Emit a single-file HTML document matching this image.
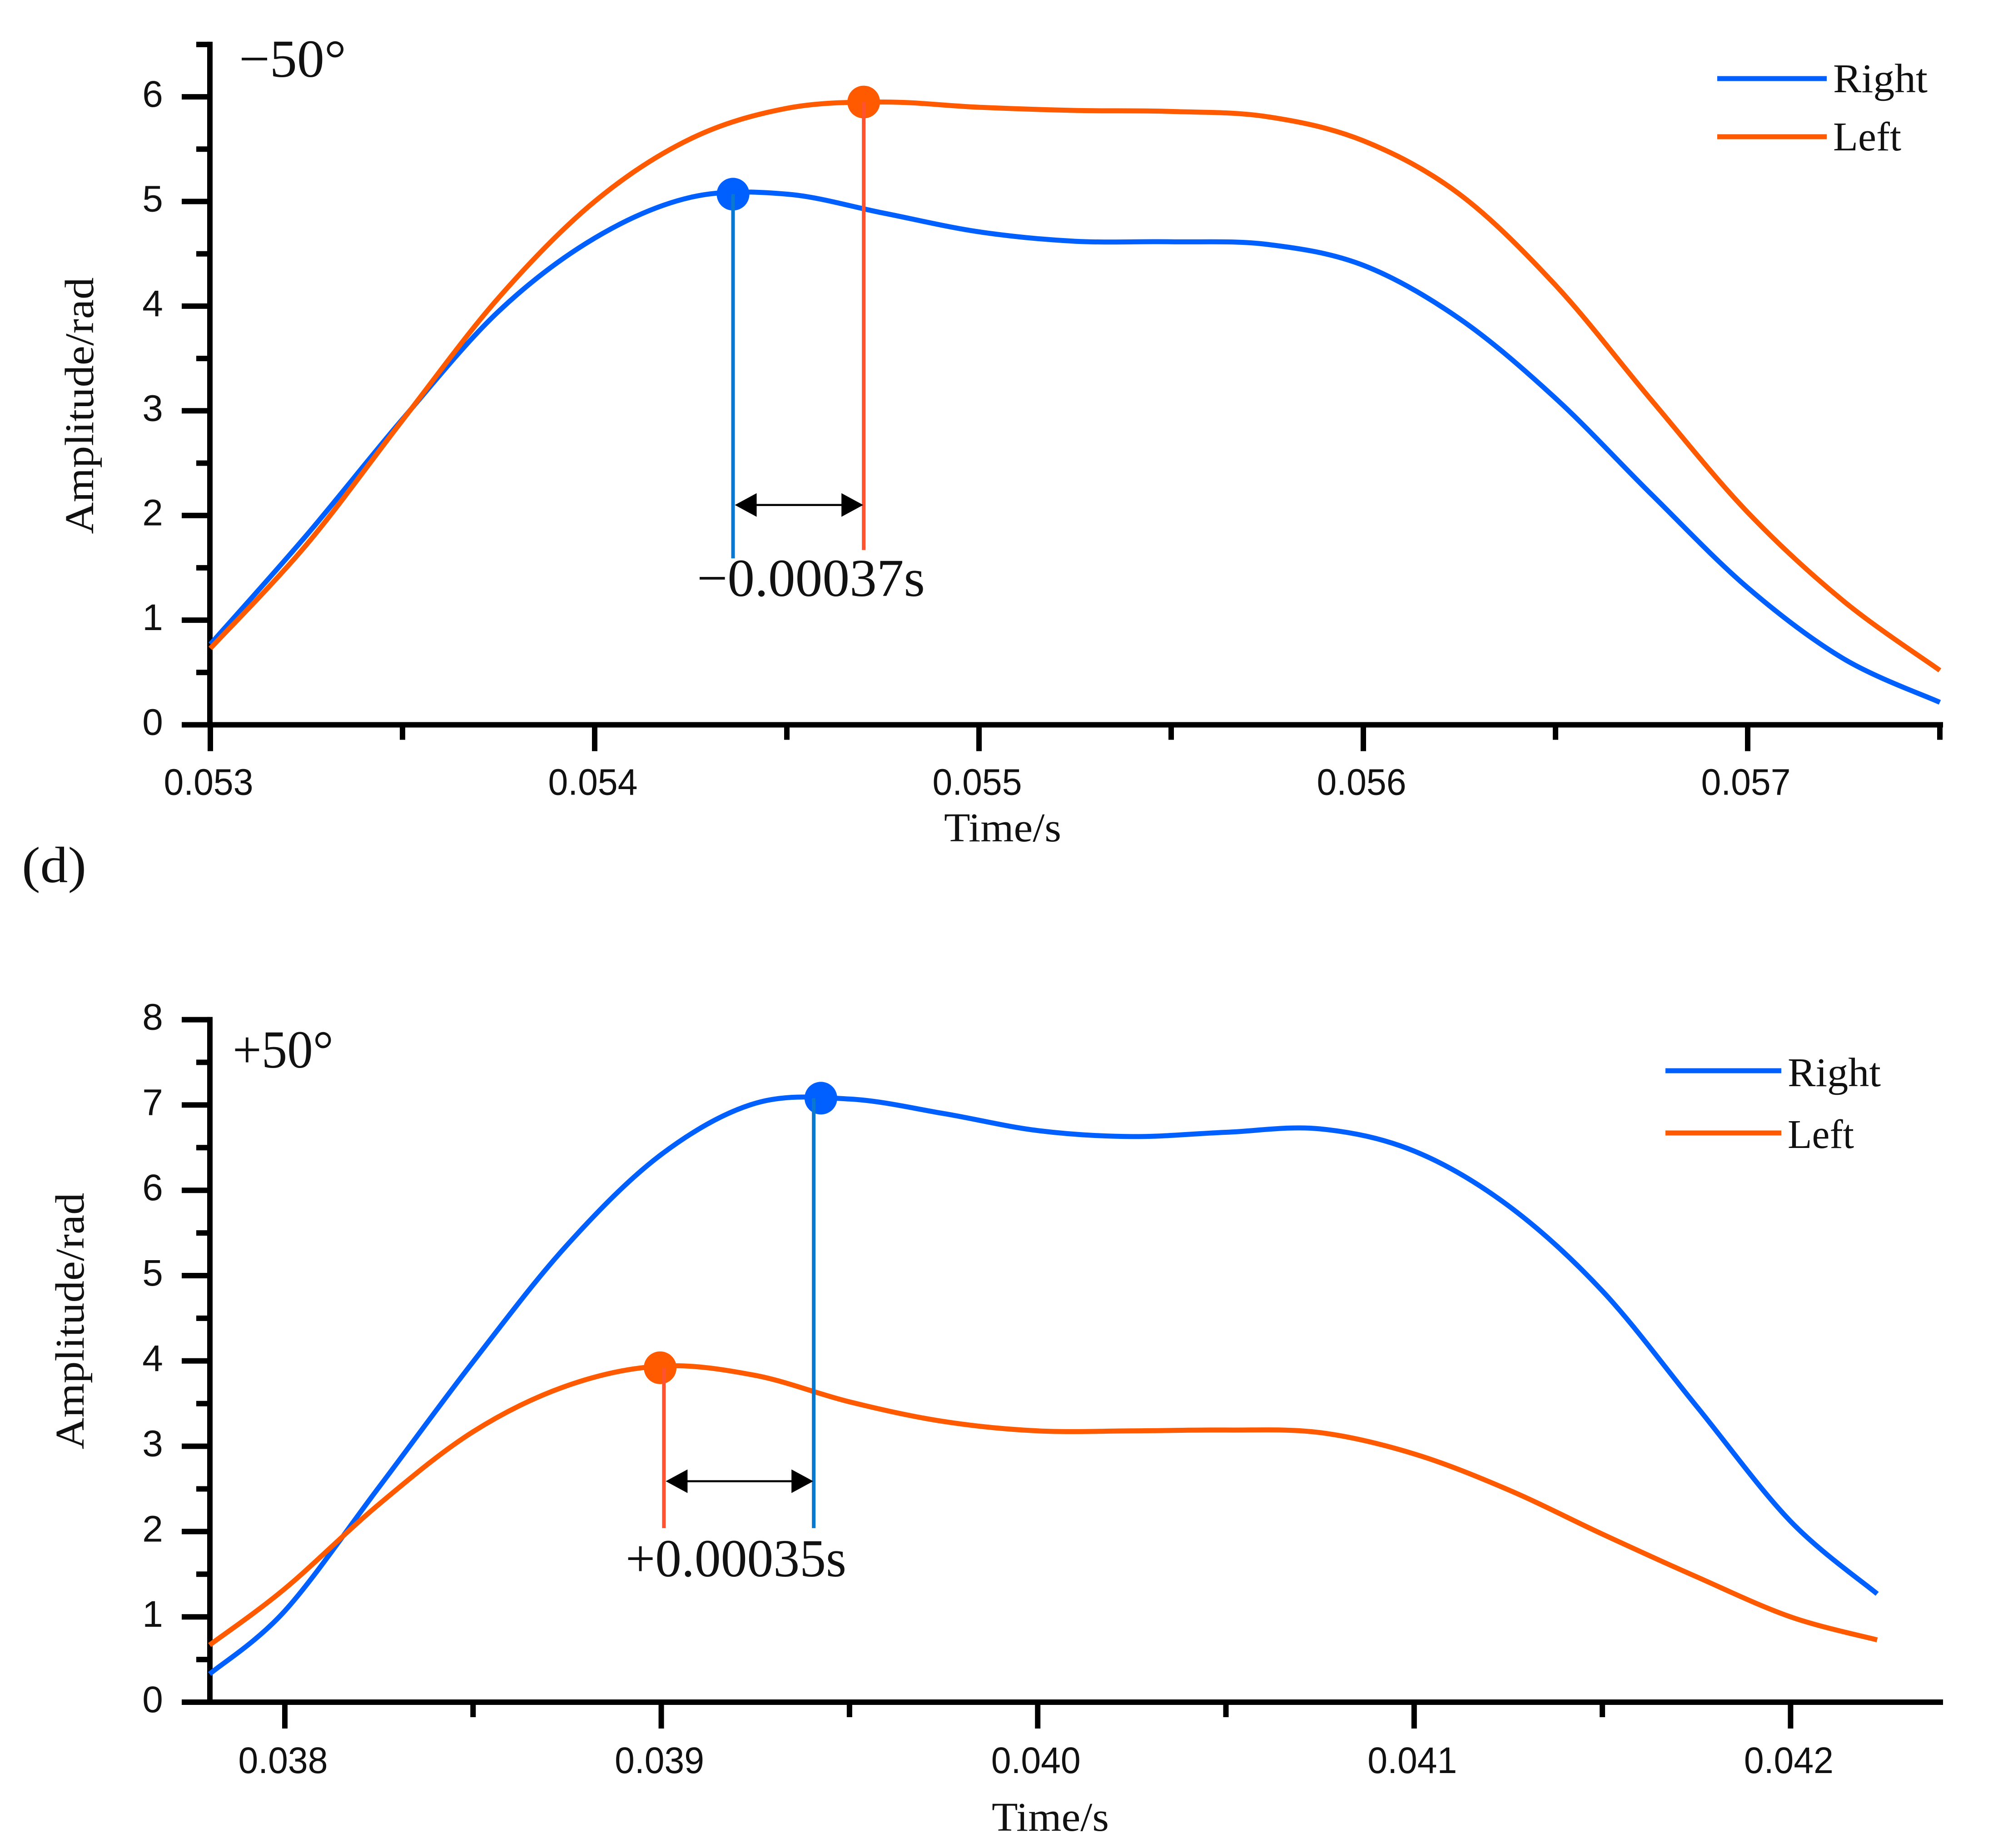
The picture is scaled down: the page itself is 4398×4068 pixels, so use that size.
<!DOCTYPE html>
<html>
<head>
<meta charset="utf-8">
<title>Amplitude vs time</title>
<style>
html,body{margin:0;padding:0;background:#fff;}
svg{display:block;}
.serif{font-family:"Liberation Serif","DejaVu Serif",serif;fill:#111;}
.sans{font-family:"Liberation Sans","DejaVu Sans",sans-serif;fill:#111;}
</style>
</head>
<body>
<svg id="fig" xmlns="http://www.w3.org/2000/svg" width="4398" height="4068" viewBox="0 0 4398 4068">
  <rect x="0" y="0" width="4398" height="4068" fill="#ffffff"/>
  <g id="top"></g>
  <g id="bottom"></g>

  <text class="serif" x="526" y="169" font-size="118" textLength="236" lengthAdjust="spacingAndGlyphs">−50°</text>
  <text class="serif" transform="translate(205 893) rotate(-90)" text-anchor="middle" font-size="90" textLength="565" lengthAdjust="spacingAndGlyphs">Amplitude/rad</text>
  <text class="serif" x="2207" y="1852" text-anchor="middle" font-size="90" textLength="258" lengthAdjust="spacingAndGlyphs">Time/s</text>
  <text class="serif" x="1534" y="1312" font-size="118" textLength="502" lengthAdjust="spacingAndGlyphs">−0.00037s</text>
  <line x1="3780" x2="4021" y1="173" y2="173" stroke="#005fff" stroke-width="11"/>
  <text class="serif" x="4035" y="203" font-size="90" textLength="208" lengthAdjust="spacingAndGlyphs">Right</text>
  <line x1="3780" x2="4021" y1="301" y2="301" stroke="#ff5a00" stroke-width="11"/>
  <text class="serif" x="4035" y="331" font-size="90" textLength="150" lengthAdjust="spacingAndGlyphs">Left</text>

  <text class="serif" x="48" y="1942" font-size="112" textLength="142" lengthAdjust="spacingAndGlyphs">(d)</text>

  <text class="serif" x="512" y="2350" font-size="118" textLength="222" lengthAdjust="spacingAndGlyphs">+50°</text>
  <text class="serif" transform="translate(184 2908) rotate(-90)" text-anchor="middle" font-size="90" textLength="565" lengthAdjust="spacingAndGlyphs">Amplitude/rad</text>
  <text class="serif" x="2312" y="4030" text-anchor="middle" font-size="90" textLength="258" lengthAdjust="spacingAndGlyphs">Time/s</text>
  <text class="serif" x="1377" y="3470" font-size="118" textLength="486" lengthAdjust="spacingAndGlyphs">+0.00035s</text>
  <line x1="3666" x2="3921" y1="2357" y2="2357" stroke="#005fff" stroke-width="11"/>
  <text class="serif" x="3935" y="2391" font-size="90" textLength="205" lengthAdjust="spacingAndGlyphs">Right</text>
  <line x1="3666" x2="3921" y1="2494" y2="2494" stroke="#ff5a00" stroke-width="11"/>
  <text class="serif" x="3935" y="2527" font-size="90" textLength="146" lengthAdjust="spacingAndGlyphs">Left</text>
</svg>
<script>
// ---- top chart data (-50 deg) ----
const topTime = [0.05300,0.05325,0.05350,0.05375,0.05400,0.05425,0.05450,0.05475,0.05500,0.05525,0.05550,0.05575,0.05600,0.05625,0.05650,0.05675,0.05700,0.05725,0.05750];
const topRight = [0.77,1.81,2.92,3.95,4.65,5.04,5.07,4.89,4.71,4.62,4.615,4.59,4.39,3.88,3.12,2.20,1.31,0.63,0.215];
const topLeftTime = [0.05300,0.05325,0.05350,0.05375,0.05400,0.05425,0.05450,0.05475,0.05500,0.05525,0.05550,0.05575,0.05600,0.05625,0.05650,0.05675,0.05700,0.05725,0.05750];
const topLeft = [0.73,1.72,2.91,4.08,5.00,5.60,5.89,5.95,5.90,5.87,5.86,5.81,5.58,5.07,4.20,3.10,2.03,1.18,0.52];
const topXTicks = [0.053,0.054,0.055,0.056,0.057];
const topXLabels = ['0.053','0.054','0.055','0.056','0.057'];
const topXMinor = [0.0535,0.0545,0.0555,0.0565,0.0575];
const topYTicks = [0,1,2,3,4,5,6];
const topYMinor = [0.5,1.5,2.5,3.5,4.5,5.5,6.5];
const topPeakRight = [0.05436,5.07];
const topPeakLeft = [0.05470,5.95];
const topDropRight = [0.05436,1.59];
const topDropLeft = [0.05470,1.67];
const topArrowLevel = [2.10];

// ---- bottom chart data (+50 deg) ----
const botTimeRight = [0.03780,0.03800,0.03825,0.03850,0.03875,0.03900,0.03925,0.03950,0.03975,0.04000,0.04025,0.04050,0.04075,0.04100,0.04125,0.04150,0.04175,0.04200,0.04223];
const botRight = [0.33,1.07,2.52,3.99,5.36,6.42,7.02,7.07,6.90,6.70,6.63,6.68,6.72,6.46,5.82,4.82,3.47,2.12,1.27];
const botTimeLeft = [0.03780,0.03800,0.03825,0.03850,0.03875,0.03900,0.03925,0.03950,0.03975,0.04000,0.04025,0.04050,0.04075,0.04100,0.04125,0.04150,0.04175,0.04200,0.04223];
const botLeft = [0.67,1.33,2.32,3.17,3.71,3.94,3.83,3.52,3.29,3.18,3.18,3.19,3.16,2.91,2.49,1.97,1.47,1.00,0.73];
const botXTicks = [0.038,0.039,0.040,0.041,0.042];
const botXLabels = ['0.038','0.039','0.040','0.041','0.042'];
const botXMinor = [0.0385,0.0395,0.0405,0.0415];
const botYTicks = [0,1,2,3,4,5,6,7,8];
const botYMinor = [0.5,1.5,2.5,3.5,4.5,5.5,6.5,7.5];
const botPeakRight = [0.039424,7.08];
const botPeakLeft = [0.038997,3.92];
const botDropRight = [0.039405,2.04];
const botDropLeft = [0.039007,2.04];
const botArrowLevel = [2.59];

const NS = 'http://www.w3.org/2000/svg';
const BLUE = '#005fff', ORANGE = '#ff5a00', DROP_BLUE = '#0a78cf', DROP_ORANGE = '#ff5230';

function add(parent, tag, props) {
  const n = document.createElementNS(NS, tag);
  for (const k in props) n.setAttribute(k, props[k]);
  parent.appendChild(n);
  return n;
}

// Catmull-Rom spline through the data points
function smoothPath(xs, ys, sx, sy) {
  const p = xs.map((x, i) => [sx(x), sy(ys[i])]);
  let d = 'M' + p[0][0].toFixed(1) + ' ' + p[0][1].toFixed(1);
  for (let i = 0; i < p.length - 1; i++) {
    const a = p[Math.max(i - 1, 0)], b = p[i], c = p[i + 1], e = p[Math.min(i + 2, p.length - 1)];
    const c1x = b[0] + (c[0] - a[0]) / 6, c1y = b[1] + (c[1] - a[1]) / 6;
    const c2x = c[0] - (e[0] - b[0]) / 6, c2y = c[1] - (e[1] - b[1]) / 6;
    d += 'C' + c1x.toFixed(1) + ' ' + c1y.toFixed(1) + ' ' + c2x.toFixed(1) + ' ' + c2y.toFixed(1) + ' ' + c[0].toFixed(1) + ' ' + c[1].toFixed(1);
  }
  return d;
}

function drawChart(o) {
  const g = document.getElementById(o.id);
  const sx = v => o.xOrigin + (v - o.xRef) * o.xPerUnit;
  const sy = v => o.y0 - v * o.yPerUnit;
  const AX = 12;

  // axes
  const yAxis = add(g, 'line', {x1: o.left, x2: o.left, y1: sy(o.yMax) - 6, y2: o.y0 + 6, stroke: '#000', 'stroke-width': AX});
  
  
  const xAxis = add(g, 'line', {x1: o.left - 62, x2: o.right + 6, y1: o.y0, y2: o.y0, stroke: '#000', 'stroke-width': 12});
  
  

  // y ticks
  o.yTicks.forEach(v => {
    if (v !== 0) {
      const t = add(g, 'line', {x1: o.left - 62, x2: o.left, y1: sy(v), y2: sy(v), stroke: '#000', 'stroke-width': 12});
      
      
    }
    const l = add(g, 'text', {x: o.left - 126, y: sy(v) + 22, 'text-anchor': 'middle', 'font-size': 82, class: 'sans'});
    
    
    l.textContent = String(v);
  });
  o.yMinor.forEach(v => {
    const t = add(g, 'line', {x1: o.left - 30, x2: o.left, y1: sy(v), y2: sy(v), stroke: '#000', 'stroke-width': 12});
    
    
  });

  // x ticks
  o.xTicks.forEach((v, i) => {
    const t = add(g, 'line', {x1: sx(v), x2: sx(v), y1: o.y0, y2: o.y0 + 58, stroke: '#000', 'stroke-width': AX});
    
    
    const l = add(g, 'text', {x: sx(v) - 4, y: o.y0 + o.labelDy, 'text-anchor': 'middle', 'font-size': 82, class: 'sans', textLength: 197, lengthAdjust: 'spacingAndGlyphs'});
    
    
    l.textContent = o.xLabels[i];
  });
  o.xMinor.forEach(v => {
    const t = add(g, 'line', {x1: sx(v), x2: sx(v), y1: o.y0, y2: o.y0 + 33, stroke: '#000', 'stroke-width': AX});
    
    
  });

  // series: blue first, orange on top
  const sr = add(g, 'path', {d: smoothPath(o.timeRight, o.right_, sx, sy), fill: 'none', stroke: BLUE, 'stroke-width': 11});
  
  
  const sl = add(g, 'path', {d: smoothPath(o.timeLeft, o.left_, sx, sy), fill: 'none', stroke: ORANGE, 'stroke-width': 11});
  
  

  // peak markers
  const dotR = add(g, 'circle', {cx: sx(o.peakRight[0]), cy: sy(o.peakRight[1]), r: 36, fill: BLUE});
  
  
  const dotL = add(g, 'circle', {cx: sx(o.peakLeft[0]), cy: sy(o.peakLeft[1]), r: 36, fill: ORANGE});
  
  

  // drop lines
  const dR = add(g, 'line', {x1: sx(o.dropRight[0]), x2: sx(o.dropRight[0]), y1: sy(o.peakRight[1]), y2: sy(o.dropRight[1]), stroke: DROP_BLUE, 'stroke-width': 8});
  
  
  const dL = add(g, 'line', {x1: sx(o.dropLeft[0]), x2: sx(o.dropLeft[0]), y1: sy(o.peakLeft[1]), y2: sy(o.dropLeft[1]), stroke: DROP_ORANGE, 'stroke-width': 8});
  
  

  // double arrow between the two drop lines
  const xa = Math.min(sx(o.dropRight[0]), sx(o.dropLeft[0])) + 4;
  const xb = Math.max(sx(o.dropRight[0]), sx(o.dropLeft[0])) - 1;
  const ya = sy(o.arrowLevel[0]);
  const shaft = add(g, 'line', {x1: xa + 40, x2: xb - 40, y1: ya, y2: ya, stroke: '#000', 'stroke-width': 4.5});
  
  
  const headA = add(g, 'polygon', {points: xa + ',' + ya + ' ' + (xa + 48) + ',' + (ya - 26) + ' ' + (xa + 48) + ',' + (ya + 26), fill: '#000'});
  
  
  const headB = add(g, 'polygon', {points: xb + ',' + ya + ' ' + (xb - 48) + ',' + (ya - 26) + ' ' + (xb - 48) + ',' + (ya + 26), fill: '#000'});
  
  
}

drawChart({
  id: 'top', left: 462, right: 4271, y0: 1595.5, yPerUnit: 230.4, yMax: 6.5,
  xOrigin: 463, xRef: 0.053, xPerUnit: 846000, labelDy: 154,
  xTicks: topXTicks, xLabels: topXLabels, xMinor: topXMinor, yTicks: topYTicks, yMinor: topYMinor,
  timeRight: topTime, right_: topRight, timeLeft: topLeftTime, left_: topLeft,
  peakRight: topPeakRight, peakLeft: topPeakLeft, dropRight: topDropRight, dropLeft: topDropLeft,
  arrowLevel: topArrowLevel
});
drawChart({
  id: 'bottom', left: 462, right: 4271, y0: 3747, yPerUnit: 187.8, yMax: 8,
  xOrigin: 627, xRef: 0.038, xPerUnit: 828600, labelDy: 156,
  xTicks: botXTicks, xLabels: botXLabels, xMinor: botXMinor, yTicks: botYTicks, yMinor: botYMinor,
  timeRight: botTimeRight, right_: botRight, timeLeft: botTimeLeft, left_: botLeft,
  peakRight: botPeakRight, peakLeft: botPeakLeft, dropRight: botDropRight, dropLeft: botDropLeft,
  arrowLevel: botArrowLevel
});
</script>
</body>
</html>
